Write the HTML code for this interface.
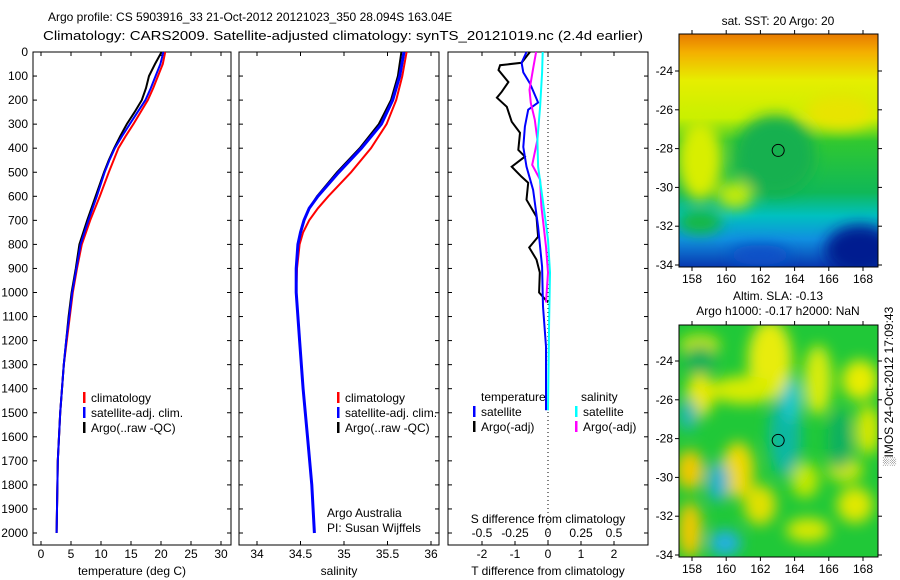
<!DOCTYPE html>
<html><head><meta charset="utf-8"><style>
body{margin:0;background:#fff}
svg{display:block;font-family:"Liberation Sans",sans-serif;font-size:12px}
</style></head><body>
<svg id="c" width="900" height="580" viewBox="0 0 900 580">
<defs>
<filter id="bl" x="-50%" y="-50%" width="200%" height="200%"><feGaussianBlur stdDeviation="7"/></filter>
<clipPath id="cm1"><rect x="679" y="34" width="199" height="233"/></clipPath>
<clipPath id="cm2"><rect x="679" y="325" width="199" height="232"/></clipPath>
<linearGradient id="sst" x1="0" y1="0" x2="0" y2="1">
<stop offset="0" stop-color="#e87a00"/><stop offset="0.08" stop-color="#f4b000"/><stop offset="0.2" stop-color="#e6ee00"/>
<stop offset="0.36" stop-color="#c8f000"/><stop offset="0.46" stop-color="#30c830"/><stop offset="0.68" stop-color="#10b858"/>
<stop offset="0.78" stop-color="#00c0c0"/><stop offset="0.88" stop-color="#1090e0"/><stop offset="1" stop-color="#0838b0"/>
</linearGradient>
</defs>
<g>
<text x="48" y="21" font-size="12">Argo profile: CS 5903916_33 21-Oct-2012 20121023_350 28.094S 163.04E</text>
<text x="43" y="40" font-size="13" textLength="600" lengthAdjust="spacingAndGlyphs">Climatology: CARS2009. Satellite-adjusted climatology: synTS_20121019.nc (2.4d earlier)</text>
</g>
<g id="axes"></g>
<g id="maps"></g>
<text transform="translate(893,466) rotate(-90)" font-size="12">░IMOS 24-Oct-2012 17:09:43</text>
</svg>
<script>
// ---- data ----
const depthTicks=[0,100,200,300,400,500,600,700,800,900,1000,1100,1200,1300,1400,1500,1600,1700,1800,1900,2000];
const tDepth=[0,50,100,150,200,250,300,350,400,450,500,600,700,800,900,1000,1100,1200,1300,1400,1500,1700,2000];
const tClim=[20.7,20.3,19.5,18.7,17.8,16.6,15.4,14.1,12.9,12.1,11.3,9.8,8.2,6.8,6.0,5.3,4.8,4.3,3.8,3.5,3.2,2.8,2.6];
const tSat=[20.4,19.9,19.1,18.3,17.4,16.1,14.8,13.5,12.3,11.4,10.6,9.3,7.9,6.6,5.9,5.2,4.7,4.2,3.8,3.5,3.2,2.8,2.6];
const tArgo=[20.1,19.0,18.0,17.5,16.8,15.6,14.3,13.2,12.2,11.3,10.5,9.1,7.7,6.4,5.8,5.1,4.6,4.2,3.8,3.5,3.2,2.8,2.6];
const sDepth=[0,100,200,300,400,500,600,650,700,750,800,900,1000,1200,1400,1600,1800,2000];
const sClim=[35.72,35.67,35.6,35.49,35.31,35.08,34.82,34.7,34.6,34.53,34.49,34.46,34.45,34.49,34.53,34.58,34.63,34.66];
const sSat=[35.69,35.64,35.56,35.43,35.2,34.94,34.7,34.6,34.54,34.5,34.47,34.45,34.45,34.49,34.53,34.58,34.63,34.66];
const sArgo=[35.66,35.62,35.54,35.4,35.18,34.92,34.69,34.6,34.54,34.5,34.47,34.45,34.45,34.49,34.53,34.58,34.63,34.66];
const dTArgoDepth=[0,45,55,75,125,165,190,228,290,336,407,435,477,519,544,614,685,768,813,863,917,1000,1041];
const dTArgo=[-0.55,-0.8,-1.45,-1.5,-1.2,-1.4,-1.55,-1.25,-1.1,-0.85,-0.9,-0.7,-1.1,-0.8,-0.6,-0.65,-0.35,-0.3,-0.57,-0.35,-0.25,-0.27,0];
const dTSatDepth=[0,45,85,130,210,240,310,395,477,573,727,893,1058,1224,1490];
const dTSat=[-0.65,-0.8,-0.75,-0.55,-0.3,-0.6,-0.7,-0.75,-0.65,-0.45,-0.3,-0.18,-0.15,-0.06,-0.06];
const dSArgoDepth=[0,60,157,212,282,365,469,531,643,809,917,1041];
const dSArgo=[-0.09,-0.11,-0.14,-0.13,-0.1,-0.08,-0.12,-0.06,-0.05,-0.015,0,-0.015];
const dSSatDepth=[0,85,228,365,477,614,780,917,1124,1490];
const dSSat=[-0.04,-0.045,-0.06,-0.08,-0.075,-0.04,0,0.015,0.008,0];
const tTicks=[0,5,10,15,20,25,30];
const sTicks=[34,34.5,35,35.5,36];
const dTTicks=[-2,-1,0,1,2];
const dSTicks=[-0.5,-0.25,0,0.25,0.5];
const lonTicks=[158,160,162,164,166,168];
const latTicks=[-24,-26,-28,-30,-32,-34];
const argoLon=163.04, argoLat=-28.094;
// ---- helpers ----
const NS="http://www.w3.org/2000/svg";
const axes=document.getElementById('axes'), maps=document.getElementById('maps');
function mk(tag,par,at){const e=document.createElementNS(NS,tag);for(const k in at)e.setAttribute(k,at[k]);par.appendChild(e);return e;}
function txt(par,x,y,s,anc,fs){const e=mk('text',par,{x:x,y:y,'text-anchor':anc||'middle'});if(fs)e.setAttribute('font-size',fs);e.textContent=s;return e;}
const yD=d=>52+d*0.2405;
const TOP=52,BOT=545;
const xT=v=>41+v*6.0, xS=v=>257+(v-34)*87, xDT=v=>548+v*33, xDS=v=>548+v*132;
function panel(x0,x1,name){
  const g=mk('g',axes,{});
  
  
  mk('rect',g,{x:x0,y:TOP,width:x1-x0,height:BOT-TOP,fill:'none',stroke:'#000','stroke-width':1});
  depthTicks.forEach(d=>{mk('line',g,{x1:x0,x2:x0+4,y1:yD(d),y2:yD(d),stroke:'#000'});mk('line',g,{x1:x1,x2:x1-4,y1:yD(d),y2:yD(d),stroke:'#000'});});
  return g;
}
function line(g,xs,ds,fx,col,w,name){
  const p=mk('polyline',g,{points:xs.map((v,i)=>fx(v).toFixed(1)+','+yD(ds[i]).toFixed(1)).join(' '),fill:'none',stroke:col,'stroke-width':w});
  
  
}
function legend(g,x,y,items){items.forEach((it,i)=>{mk('rect',g,{x:x,y:y+i*15-10,width:2.5,height:11,fill:it[0]});txt(g,x+8,y+i*15,it[1],'start');});}
// Panel 1 temperature
const p1=panel(33,231,'temperature-panel');
depthTicks.forEach(d=>txt(p1,28,yD(d)+4,String(d),'end'));
tTicks.forEach(v=>{mk('line',p1,{x1:xT(v),x2:xT(v),y1:BOT,y2:BOT-4,stroke:'#000'});mk('line',p1,{x1:xT(v),x2:xT(v),y1:TOP,y2:TOP+4,stroke:'#000'});txt(p1,xT(v),558,String(v));});
txt(p1,132,575,'temperature (deg C)');
line(p1,tClim,tDepth,xT,'#f00',2,'temp-climatology-line');
line(p1,tArgo,tDepth,xT,'#000',2,'temp-argo-line');
line(p1,tSat,tDepth,xT,'#00f',2,'temp-satellite-line');
legend(p1,83,402,[['#f00','climatology'],['#00f','satellite-adj. clim.'],['#000','Argo(..raw -QC)']]);
// Panel 2 salinity
const p2=panel(239,439,'salinity-panel');
sTicks.forEach(v=>{mk('line',p2,{x1:xS(v),x2:xS(v),y1:BOT,y2:BOT-4,stroke:'#000'});mk('line',p2,{x1:xS(v),x2:xS(v),y1:TOP,y2:TOP+4,stroke:'#000'});txt(p2,xS(v),558,String(v));});
txt(p2,339,575,'salinity');
line(p2,sClim,sDepth,xS,'#f00',2,'sal-climatology-line');
line(p2,sArgo,sDepth,xS,'#000',2,'sal-argo-line');
line(p2,sSat,sDepth,xS,'#00f',3,'sal-satellite-line');
legend(p2,337,402,[['#f00','climatology'],['#00f','satellite-adj. clim.'],['#000','Argo(..raw -QC)']]);
txt(p2,327,517,'Argo Australia','start');txt(p2,327,532,'PI: Susan Wijffels','start');
// Panel 3 differences
const p3=panel(448,648,'difference-panel');
mk('line',p3,{x1:548,x2:548,y1:TOP,y2:BOT,stroke:'#000','stroke-dasharray':'1,3'});
dTTicks.forEach(v=>{mk('line',p3,{x1:xDT(v),x2:xDT(v),y1:BOT,y2:BOT-4,stroke:'#000'});txt(p3,xDT(v),558,String(v));});
dSTicks.forEach(v=>{mk('line',p3,{x1:xDS(v),x2:xDS(v),y1:TOP,y2:TOP+4,stroke:'#000'});txt(p3,xDS(v),537,String(v));});
txt(p3,548,523,'S difference from climatology');
txt(p3,548,575,'T difference from climatology');
line(p3,dTArgo,dTArgoDepth,xDT,'#000',2,'dT-argo-line');
line(p3,dTSat,dTSatDepth,xDT,'#00f',2,'dT-satellite-line');
line(p3,dSArgo,dSArgoDepth,xDS,'#f0f',2,'dS-argo-line');
line(p3,dSSat,dSSatDepth,xDS,'#0ff',2,'dS-satellite-line');
txt(p3,481,401,'temperature','start');txt(p3,581,401,'salinity','start');
legend(p3,473,416,[['#00f','satellite'],['#000','Argo(-adj)']]);
legend(p3,575,416,[['#0ff','satellite'],['#f0f','Argo(-adj)']]);
// Maps
const xL=v=>692+(v-158)*17.1;
function map(y0,y1,yLat24,clip,name,fill){
  const g=mk('g',maps,{});
  
  
  const yl=v=>yLat24+(-24-v)*19.4;
  const inner=mk('g',g,{'clip-path':'url(#'+clip+')'});
  fill(inner,y0,y1,yl);
  mk('rect',g,{x:679,y:y0,width:199,height:y1-y0,fill:'none',stroke:'#000'});
  lonTicks.forEach(v=>{mk('line',g,{x1:xL(v),x2:xL(v),y1:y1,y2:y1+4,stroke:'#000'});mk('line',g,{x1:xL(v),x2:xL(v),y1:y0,y2:y0-4,stroke:'#000'});txt(g,xL(v),y1+16,String(v));});
  latTicks.forEach(v=>{mk('line',g,{x1:679,x2:675,y1:yl(v),y2:yl(v),stroke:'#000'});mk('line',g,{x1:878,x2:882,y1:yl(v),y2:yl(v),stroke:'#000'});txt(g,673,yl(v)+4,String(v),'end');});
  mk('circle',g,{cx:xL(argoLon),cy:yl(argoLat),r:6,fill:'none',stroke:'#000'});
  return g;
}
const m1=map(34,267,71,'cm1','sst-map',(g,y0,y1,yl)=>{
  mk('rect',g,{x:679,y:y0,width:199,height:y1-y0,fill:'url(#sst)'});
  const b=mk('g',g,{filter:'url(#bl)'});
  mk('ellipse',b,{cx:700,cy:160,rx:22,ry:40,fill:'#d8ee00'});
  mk('ellipse',b,{cx:735,cy:195,rx:18,ry:14,fill:'#c0ea10'});
  mk('ellipse',b,{cx:840,cy:112,rx:35,ry:18,fill:'#e8e400'});
  mk('ellipse',b,{cx:775,cy:155,rx:40,ry:40,fill:'#18b050'});
  mk('ellipse',b,{cx:860,cy:250,rx:35,ry:25,fill:'#001c90'});
  mk('ellipse',b,{cx:760,cy:255,rx:30,ry:10,fill:'#0850c8'});
  mk('ellipse',b,{cx:700,cy:222,rx:22,ry:12,fill:'#18b840'});
});
txt(m1,778,25,'sat. SST: 20 Argo: 20');
const m2=map(325,557,361,'cm2','sla-map',(g,y0,y1,yl)=>{
  mk('rect',g,{x:679,y:y0,width:199,height:y1-y0,fill:'#20c838'});
  const b=mk('g',g,{filter:'url(#bl)'});
  [[770,360,22,40,'#e8ec10'],[745,390,35,14,'#d8ec00'],[818,380,14,35,'#d8ec10'],[860,380,18,20,'#e8ec00'],[868,430,12,25,'#d8e800'],
   [700,395,14,22,'#e8e800'],[690,470,14,20,'#f0c800'],[738,470,16,28,'#f0d800'],[760,505,16,20,'#e0e000'],[690,530,12,28,'#f0c800'],
   [808,530,22,12,'#d8e800'],[855,505,18,18,'#e0e800'],[845,470,18,12,'#d0e800'],[805,480,14,18,'#c0e800'],[700,345,20,10,'#d0e800']].forEach(e=>mk('ellipse',b,{cx:e[0],cy:e[1],rx:e[2],ry:e[3],fill:e[4]}));
  [[785,435,16,42,'#10b8a0'],[792,400,9,22,'#20c8d0'],[718,482,11,20,'#20b0d0'],[725,543,16,13,'#20b0e0'],[688,415,10,16,'#20b8b0'],[840,440,12,30,'#10b060'],[700,360,15,15,'#10b058']].forEach(e=>mk('ellipse',b,{cx:e[0],cy:e[1],rx:e[2],ry:e[3],fill:e[4]}));
});
txt(m2,778,300,'Altim. SLA: -0.13');
txt(m2,778,315,'Argo h1000: -0.17 h2000: NaN');
</script>
</body></html>
